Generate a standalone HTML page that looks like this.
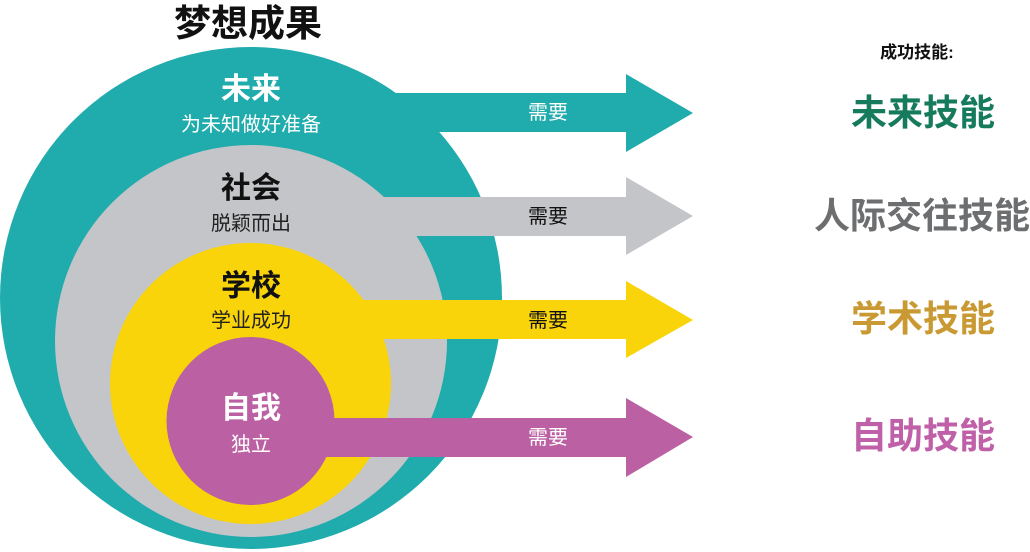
<!DOCTYPE html>
<html><head><meta charset="utf-8"><style>
html,body{margin:0;padding:0;background:#fff;}
svg{display:block;}
text{font-family:"Liberation Sans","Noto Sans CJK SC",sans-serif;}
</style></head><body>
<svg width="1030" height="552" viewBox="0 0 1030 552" xmlns="http://www.w3.org/2000/svg">
<text x="248" y="36" font-size="37" font-weight="bold" fill="#111" text-anchor="middle">梦想成果</text>
<circle cx="251" cy="298" r="251" fill="#20abac"/>
<polygon points="250,93 626,93 626,74 693,113 626,152 626,132 250,132" fill="#20abac"/>
<circle cx="251" cy="341" r="196" fill="#c4c5c8"/>
<polygon points="250,197 626,197 626,177 693,216 626,255 626,236 250,236" fill="#c4c5c8"/>
<circle cx="250.5" cy="383.5" r="140.5" fill="#f9d40a"/>
<polygon points="250,300 626,300 626,281 693,320 626,358 626,339 250,339" fill="#f9d40a"/>
<circle cx="250.5" cy="421" r="84" fill="#bb60a2"/>
<polygon points="250,418 626,418 626,398 693,437 626,477 626,457 250,457" fill="#bb60a2"/>

<text x="251" y="99" font-size="30" font-weight="bold" fill="#fff" text-anchor="middle">未来</text>
<text x="251" y="131" font-size="20" fill="#fff" text-anchor="middle">为未知做好准备</text>
<text x="251" y="198" font-size="30" font-weight="bold" fill="#111" text-anchor="middle">社会</text>
<text x="251" y="230" font-size="20" fill="#222" text-anchor="middle">脱颖而出</text>
<text x="251" y="296" font-size="30" font-weight="bold" fill="#111" text-anchor="middle">学校</text>
<text x="251" y="327" font-size="20" fill="#222" text-anchor="middle">学业成功</text>
<text x="251" y="418" font-size="30" font-weight="bold" fill="#fff" text-anchor="middle">自我</text>
<text x="251" y="451" font-size="20" fill="#fff" text-anchor="middle">独立</text>

<text x="548" y="119" font-size="20" fill="#fff" text-anchor="middle">需要</text>
<text x="548" y="223" font-size="20" fill="#111" text-anchor="middle">需要</text>
<text x="548" y="327" font-size="20" fill="#111" text-anchor="middle">需要</text>
<text x="548" y="444" font-size="20" fill="#fff" text-anchor="middle">需要</text>

<text x="917" y="58" font-size="17" font-weight="bold" fill="#111" text-anchor="middle">成功技能:</text>
<text x="923" y="125" font-size="36" font-weight="bold" fill="#167a5c" text-anchor="middle">未来技能</text>
<text x="922" y="228" font-size="36" font-weight="bold" fill="#6d6e70" text-anchor="middle">人际交往技能</text>
<text x="923" y="331" font-size="36" font-weight="bold" fill="#c99a33" text-anchor="middle">学术技能</text>
<text x="923" y="448" font-size="36" font-weight="bold" fill="#c060a8" text-anchor="middle">自助技能</text>
</svg>
</body></html>
